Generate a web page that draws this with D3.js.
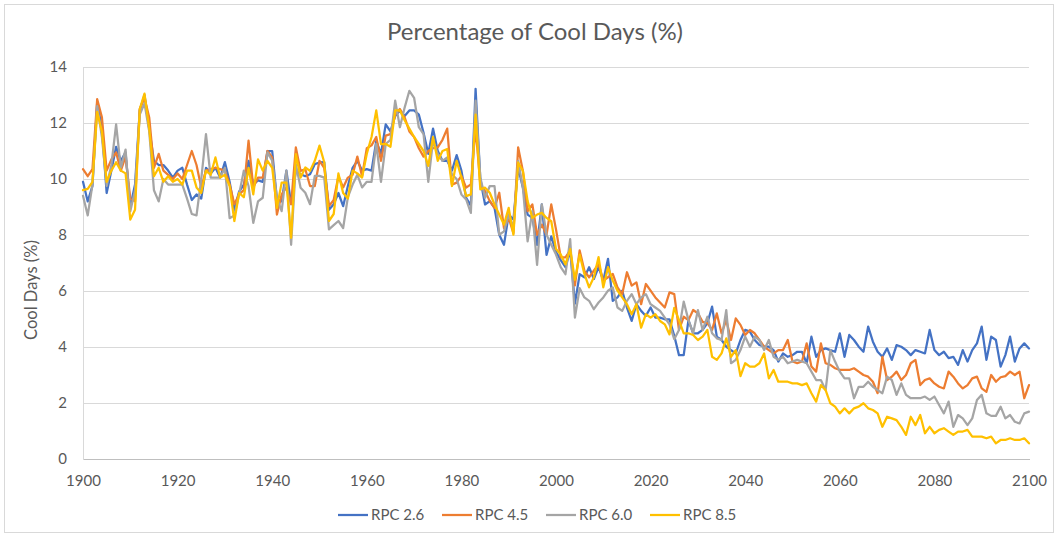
<!DOCTYPE html>
<html>
<head>
<meta charset="utf-8">
<script src="https://cdn.jsdelivr.net/npm/d3@7"></script>
<style>
  html, body { margin: 0; padding: 0; background: #ffffff; }
  svg { display: block; font-family: Lato, "Open Sans", sans-serif; }
</style>
</head>
<body>
<svg id="chart" width="1060" height="537"></svg>
<script>
// Annual percentage of cool days, 1900–2100, under four emission pathways.
const startYear = 1900;
const endYear = 2100;

const rpc26 = [
  9.9, 9.2, 9.75, 12.75, 11.8, 9.5, 10.3, 11.15, 10.65, 10.95,
  9.0, 9.8, 12.45, 13.0, 11.8, 10.65, 10.5, 10.5, 10.3, 10.05,
  10.3, 10.4, 9.8, 9.25, 9.45, 9.3, 10.4, 10.2, 10.4, 10.05,
  10.6, 9.9, 8.9, 9.55, 9.8, 10.65, 9.8, 9.95, 9.9, 11.0,
  11.0, 9.27, 9.2, 10.3, 9.1, 10.3, 10.17, 10.1, 10.17, 10.53,
  10.59, 10.6, 8.9, 9.1, 9.5, 9.03, 9.75, 10.4, 10.65, 10.3,
  10.35, 10.3, 11.35, 10.9, 11.95, 11.7, 12.25, 12.45, 12.25, 12.45,
  12.45, 12.3, 11.65, 10.9, 11.8, 11.0, 10.65, 10.65, 10.3, 10.85,
  10.3, 9.33, 9.05, 13.22, 10.0, 9.09, 9.21, 8.97, 8.01, 7.65,
  8.73, 8.55, 10.41, 9.69, 8.73, 8.61, 7.65, 9.09, 7.29, 7.95,
  7.4, 7.1, 6.85, 7.45, 5.55, 6.6, 6.49, 6.85, 6.43, 6.85,
  6.37, 7.15, 5.65, 5.77, 6.01, 5.41, 4.93, 5.53, 5.29, 5.11,
  5.41, 5.05, 5.05, 4.99, 4.99, 4.4, 3.71, 3.71, 4.96, 4.49,
  4.49, 4.61, 4.85, 5.44, 4.37, 4.25, 4.01, 3.89, 3.77, 4.25,
  4.61, 4.55, 4.25, 4.07, 4.01, 4.01, 3.89, 3.48, 3.77, 3.65,
  3.71, 3.83, 3.83, 3.42, 4.37, 3.65, 3.89, 3.95, 3.89, 3.83,
  4.49, 3.65, 4.43, 4.25, 4.01, 3.83, 4.73, 4.19, 3.83, 3.65,
  3.95, 3.54, 4.07, 4.01, 3.89, 3.71, 3.89, 3.83, 3.77, 4.61,
  3.89, 3.71, 3.83, 3.60, 3.65, 3.36, 3.89, 3.48, 3.89, 4.13,
  4.73, 3.54, 4.37, 4.25, 3.30, 3.71, 4.37, 3.48, 3.95, 4.13,
  3.95
];

const rpc45 = [
  10.35, 10.1, 10.35, 12.85, 12.2, 10.3, 10.7, 10.95, 10.3, 10.8,
  9.3, 9.2, 12.5, 12.9, 12.2, 10.4, 10.9, 10.3, 10.15, 10.0,
  10.2, 10.0, 10.5, 11.0, 10.5, 9.7, 10.3, 10.35, 10.4, 10.35,
  10.3, 9.8, 9.1, 9.45, 9.6, 11.37, 9.7, 10.05, 10.05, 11.0,
  10.77, 8.73, 9.45, 9.7, 9.1, 11.13, 10.29, 10.35, 9.75, 9.75,
  10.65, 10.4, 9.03, 9.25, 10.1, 9.7, 10.05, 10.15, 10.8, 10.1,
  11.1, 11.2, 11.5, 10.65, 11.55, 11.6, 12.3, 12.5, 12.2, 11.7,
  11.5, 11.1, 10.8, 11.0, 11.1, 11.13, 11.4, 11.8, 9.8, 9.87,
  10.11, 9.69, 9.81, 11.84, 9.81, 9.57, 9.21, 8.97, 9.51, 8.25,
  8.61, 8.07, 11.13, 10.29, 8.85, 9.09, 8.01, 8.37, 8.01, 9.09,
  8.2, 7.2, 7.2, 7.45, 6.2, 7.45, 6.73, 6.49, 6.73, 6.97,
  6.37, 6.49, 6.61, 6.13, 5.89, 6.67, 6.19, 6.31, 5.53, 6.25,
  6.01, 5.77, 5.59, 5.41, 5.95, 5.89, 4.61, 5.08, 4.96, 5.32,
  5.2, 4.9, 4.85, 4.61, 5.2, 4.49, 4.96, 4.25, 5.02, 4.79,
  4.43, 4.61, 4.49, 4.25, 4.01, 3.89, 3.77, 3.89, 3.89, 4.25,
  3.48, 3.42, 3.48, 4.13, 3.30, 3.12, 4.13, 3.42, 3.36, 3.24,
  3.18, 3.18, 3.18, 3.24, 3.12, 3.0, 2.94, 2.76, 2.35, 3.65,
  2.82, 2.94, 3.12, 2.82, 3.0, 3.42, 3.54, 2.64, 2.82, 2.88,
  2.70, 2.58, 2.52, 3.12, 2.94, 2.70, 2.52, 2.64, 2.88, 2.94,
  2.52, 2.40, 3.0, 2.76, 2.92, 2.96, 3.12, 3.0, 3.12, 2.17,
  2.64
];

const rpc60 = [
  9.4, 8.7, 9.8, 12.6, 11.5, 9.75, 10.5, 11.95, 10.4, 11.05,
  8.85, 9.6, 12.3, 12.7, 11.7, 9.6, 9.2, 10.0, 9.8, 9.8,
  9.8, 9.8, 9.3, 8.75, 8.7, 10.0, 11.6, 10.05, 10.05, 10.05,
  10.4, 8.6, 8.7, 9.45, 10.3, 9.75, 8.43, 9.2, 9.33, 10.95,
  10.65, 9.33, 8.85, 10.3, 7.65, 10.53, 9.69, 9.51, 9.1, 10.11,
  10.11, 10.05, 8.2, 8.35, 8.5, 8.25, 9.35, 9.8, 10.15, 9.7,
  9.9, 9.9, 11.25, 9.9, 11.25, 11.4, 12.8, 11.85, 12.55, 13.15,
  12.9, 11.85, 11.6, 9.9, 11.37, 10.9, 10.65, 10.77, 10.17, 10.0,
  9.45, 9.27, 8.79, 12.8, 10.05, 9.33, 9.75, 9.75, 8.01, 8.13,
  8.73, 8.25, 10.65, 9.69, 7.77, 8.85, 6.93, 9.09, 8.01, 7.65,
  7.3, 6.85, 6.6, 7.85, 5.05, 6.1, 5.77, 5.65, 5.35, 5.59,
  5.77, 6.01, 6.13, 5.41, 5.29, 5.65, 5.89, 5.53, 5.77, 5.89,
  5.53, 5.41, 5.29, 5.05, 4.81, 4.28, 4.61, 5.62, 4.96, 4.49,
  5.32, 4.61, 5.08, 4.49, 4.31, 4.25, 5.32, 3.42, 3.54, 3.89,
  4.37, 4.01, 4.37, 4.25, 3.89, 4.25, 3.65, 3.54, 3.65, 3.42,
  3.48, 3.54, 3.48, 3.42, 3.12, 2.82, 2.82, 2.46, 3.89, 3.48,
  3.12, 2.88, 2.88, 2.17, 2.58, 2.58, 2.76, 2.58, 2.46, 2.35,
  2.94, 2.82, 2.29, 2.70, 2.29, 2.17, 2.17, 2.17, 2.23, 2.11,
  2.23, 1.93, 1.63, 2.05, 1.15, 1.57, 1.45, 1.21, 1.45, 2.11,
  2.29, 1.63, 1.54, 1.54, 1.87, 1.45, 1.57, 1.33, 1.27, 1.63,
  1.69
];

const rpc85 = [
  9.6, 9.65, 9.9, 12.4, 11.7, 9.9, 10.3, 10.6, 10.3, 10.2,
  8.55, 8.9, 12.5, 13.05, 11.8, 10.1, 10.4, 9.9, 10.1, 9.9,
  10.0, 9.8, 10.3, 10.3, 9.7, 9.5, 10.3, 10.15, 10.77, 10.05,
  10.15, 9.75, 8.5, 9.5, 9.35, 10.4, 9.45, 10.7, 10.3, 10.65,
  10.4, 8.97, 9.87, 9.87, 7.9, 10.89, 10.05, 10.41, 10.29, 10.65,
  11.19, 10.6, 8.5, 8.75, 10.2, 9.5, 9.3, 10.3, 10.2, 10.05,
  10.9, 11.5, 12.45, 11.25, 11.25, 11.15, 12.45, 12.45, 12.1, 11.8,
  11.5, 11.25, 11.0, 10.47, 11.5, 10.65, 11.0, 11.07, 9.75, 10.65,
  10.05, 9.39, 9.45, 12.3, 9.63, 9.69, 9.51, 9.09, 8.73, 8.37,
  8.97, 8.01, 10.59, 10.29, 9.21, 8.61, 8.73, 8.79, 8.61, 8.49,
  7.5, 7.3, 6.95, 7.5, 6.4, 7.3, 6.61, 6.13, 6.49, 7.21,
  6.13, 6.85, 6.37, 6.01, 5.77, 5.53, 5.17, 5.53, 4.69, 5.17,
  5.05, 5.17, 4.93, 4.81, 4.45, 5.4, 4.96, 4.49, 4.49, 4.43,
  4.25, 4.37, 4.61, 3.65, 3.54, 3.77, 4.31, 3.65, 3.89, 2.96,
  3.42, 3.30, 3.30, 3.42, 3.77, 2.88, 3.18, 2.76, 2.76, 2.76,
  2.70, 2.70, 2.64, 2.70, 2.35, 2.05, 2.64, 2.46, 1.99, 1.87,
  1.63, 1.81, 1.63, 1.81, 1.87, 1.99, 1.81, 1.75, 1.63, 1.15,
  1.51, 1.45, 1.39, 1.15, 0.86, 1.51, 1.21, 1.57, 0.92, 1.15,
  0.92, 1.04, 1.10, 0.98, 0.86, 0.98, 0.98, 1.04, 0.80, 0.80,
  0.80, 0.74, 0.80, 0.56, 0.68, 0.68, 0.74, 0.68, 0.68, 0.74,
  0.56
];

const seriesNames = ["RPC 2.6", "RPC 4.5", "RPC 6.0", "RPC 8.5"];
const seriesColors = ["#4472C4", "#ED7D31", "#A5A5A5", "#FFC000"];
const xTicks = [1900, 1920, 1940, 1960, 1980, 2000, 2020, 2040, 2060, 2080, 2100];
const yTicks = [0, 2, 4, 6, 8, 10, 12, 14];
const chartTitle = "Percentage of Cool Days (%)";
const yAxisTitle = "Cool Days (%)";

const years = d3.range(startYear, endYear + 1);
const seriesValues = [rpc26, rpc45, rpc60, rpc85];
const series = seriesNames.map((name, i) => ({
  name,
  color: seriesColors[i],
  points: years.map((yr, j) => ({ year: yr, value: seriesValues[i][j] }))
}));

const svg = d3.select("#chart");
const textColor = "#595959";
const gridColor = "#d9d9d9";

const plot = { left: 83, right: 1029, top: 67, bottom: 459 };

const x = d3.scaleLinear().domain([startYear, endYear]).range([plot.left, plot.right]);
const y = d3.scaleLinear().domain([0, 14]).range([plot.bottom, plot.top]);

// outer frame
svg.append("rect")
  .attr("x", 4.5).attr("y", 4.5)
  .attr("width", 1049).attr("height", 528)
  .attr("fill", "#ffffff")
  .attr("stroke", "#d9d9d9")
  .attr("stroke-width", 1);

// title
svg.append("text")
  .attr("x", 535).attr("y", 40)
  .attr("text-anchor", "middle")
  .attr("fill", textColor)
  .style("font-size", "24px")
  .text(chartTitle);

// horizontal gridlines + y labels
const yAxis = d3.axisLeft(y)
  .tickValues(yTicks)
  .tickSize(-(plot.right - plot.left))
  .tickPadding(16)
  .tickFormat(d3.format("d"));

const gy = svg.append("g")
  .attr("transform", `translate(${plot.left},0)`)
  .call(yAxis);
gy.select(".domain").remove();
gy.selectAll(".tick line").attr("stroke", gridColor).attr("stroke-width", 1)
  .attr("shape-rendering", "crispEdges");
gy.selectAll(".tick text")
  .attr("fill", textColor)
  .style("font-size", "15px")
  .style("font-family", "Lato, 'Open Sans', sans-serif");

// vertical axis line
svg.append("line")
  .attr("x1", plot.left).attr("x2", plot.left)
  .attr("y1", plot.top).attr("y2", plot.bottom)
  .attr("stroke", gridColor)
  .attr("shape-rendering", "crispEdges");

// x axis
const xAxis = d3.axisBottom(x)
  .tickValues(xTicks)
  .tickSize(0)
  .tickPadding(16)
  .tickFormat(d3.format("d"));

const gx = svg.append("g")
  .attr("transform", `translate(0,${plot.bottom})`)
  .call(xAxis);
gx.select(".domain").attr("stroke", "#bfbfbf").attr("shape-rendering", "crispEdges");
gx.selectAll(".tick text")
  .attr("fill", textColor)
  .style("font-size", "15px")
  .style("font-family", "Lato, 'Open Sans', sans-serif");

// y axis title
svg.append("text")
  .attr("transform", "translate(37,290) rotate(-90)")
  .attr("text-anchor", "middle")
  .attr("fill", textColor)
  .style("font-size", "16.5px")
  .text(yAxisTitle);

// series lines
const line = d3.line()
  .x(d => x(d.year))
  .y(d => y(d.value));

svg.append("g")
  .selectAll("path")
  .data(series)
  .join("path")
  .attr("d", d => line(d.points))
  .attr("fill", "none")
  .attr("stroke", d => d.color)
  .attr("stroke-width", 2.25)
  .attr("stroke-linejoin", "round")
  .attr("stroke-linecap", "round");

// legend
const legendX = [338, 442, 546, 650];
const legend = svg.append("g");
series.forEach((s, i) => {
  const g = legend.append("g").attr("transform", `translate(${legendX[i]},515)`);
  g.append("line")
    .attr("x1", 0).attr("x2", 30)
    .attr("y1", 0).attr("y2", 0)
    .attr("stroke", s.color)
    .attr("stroke-width", 2.25);
  g.append("text")
    .attr("x", 33).attr("y", 5)
    .attr("fill", textColor)
    .style("font-size", "15px")
    .text(s.name);
});
</script>
</body>
</html>
